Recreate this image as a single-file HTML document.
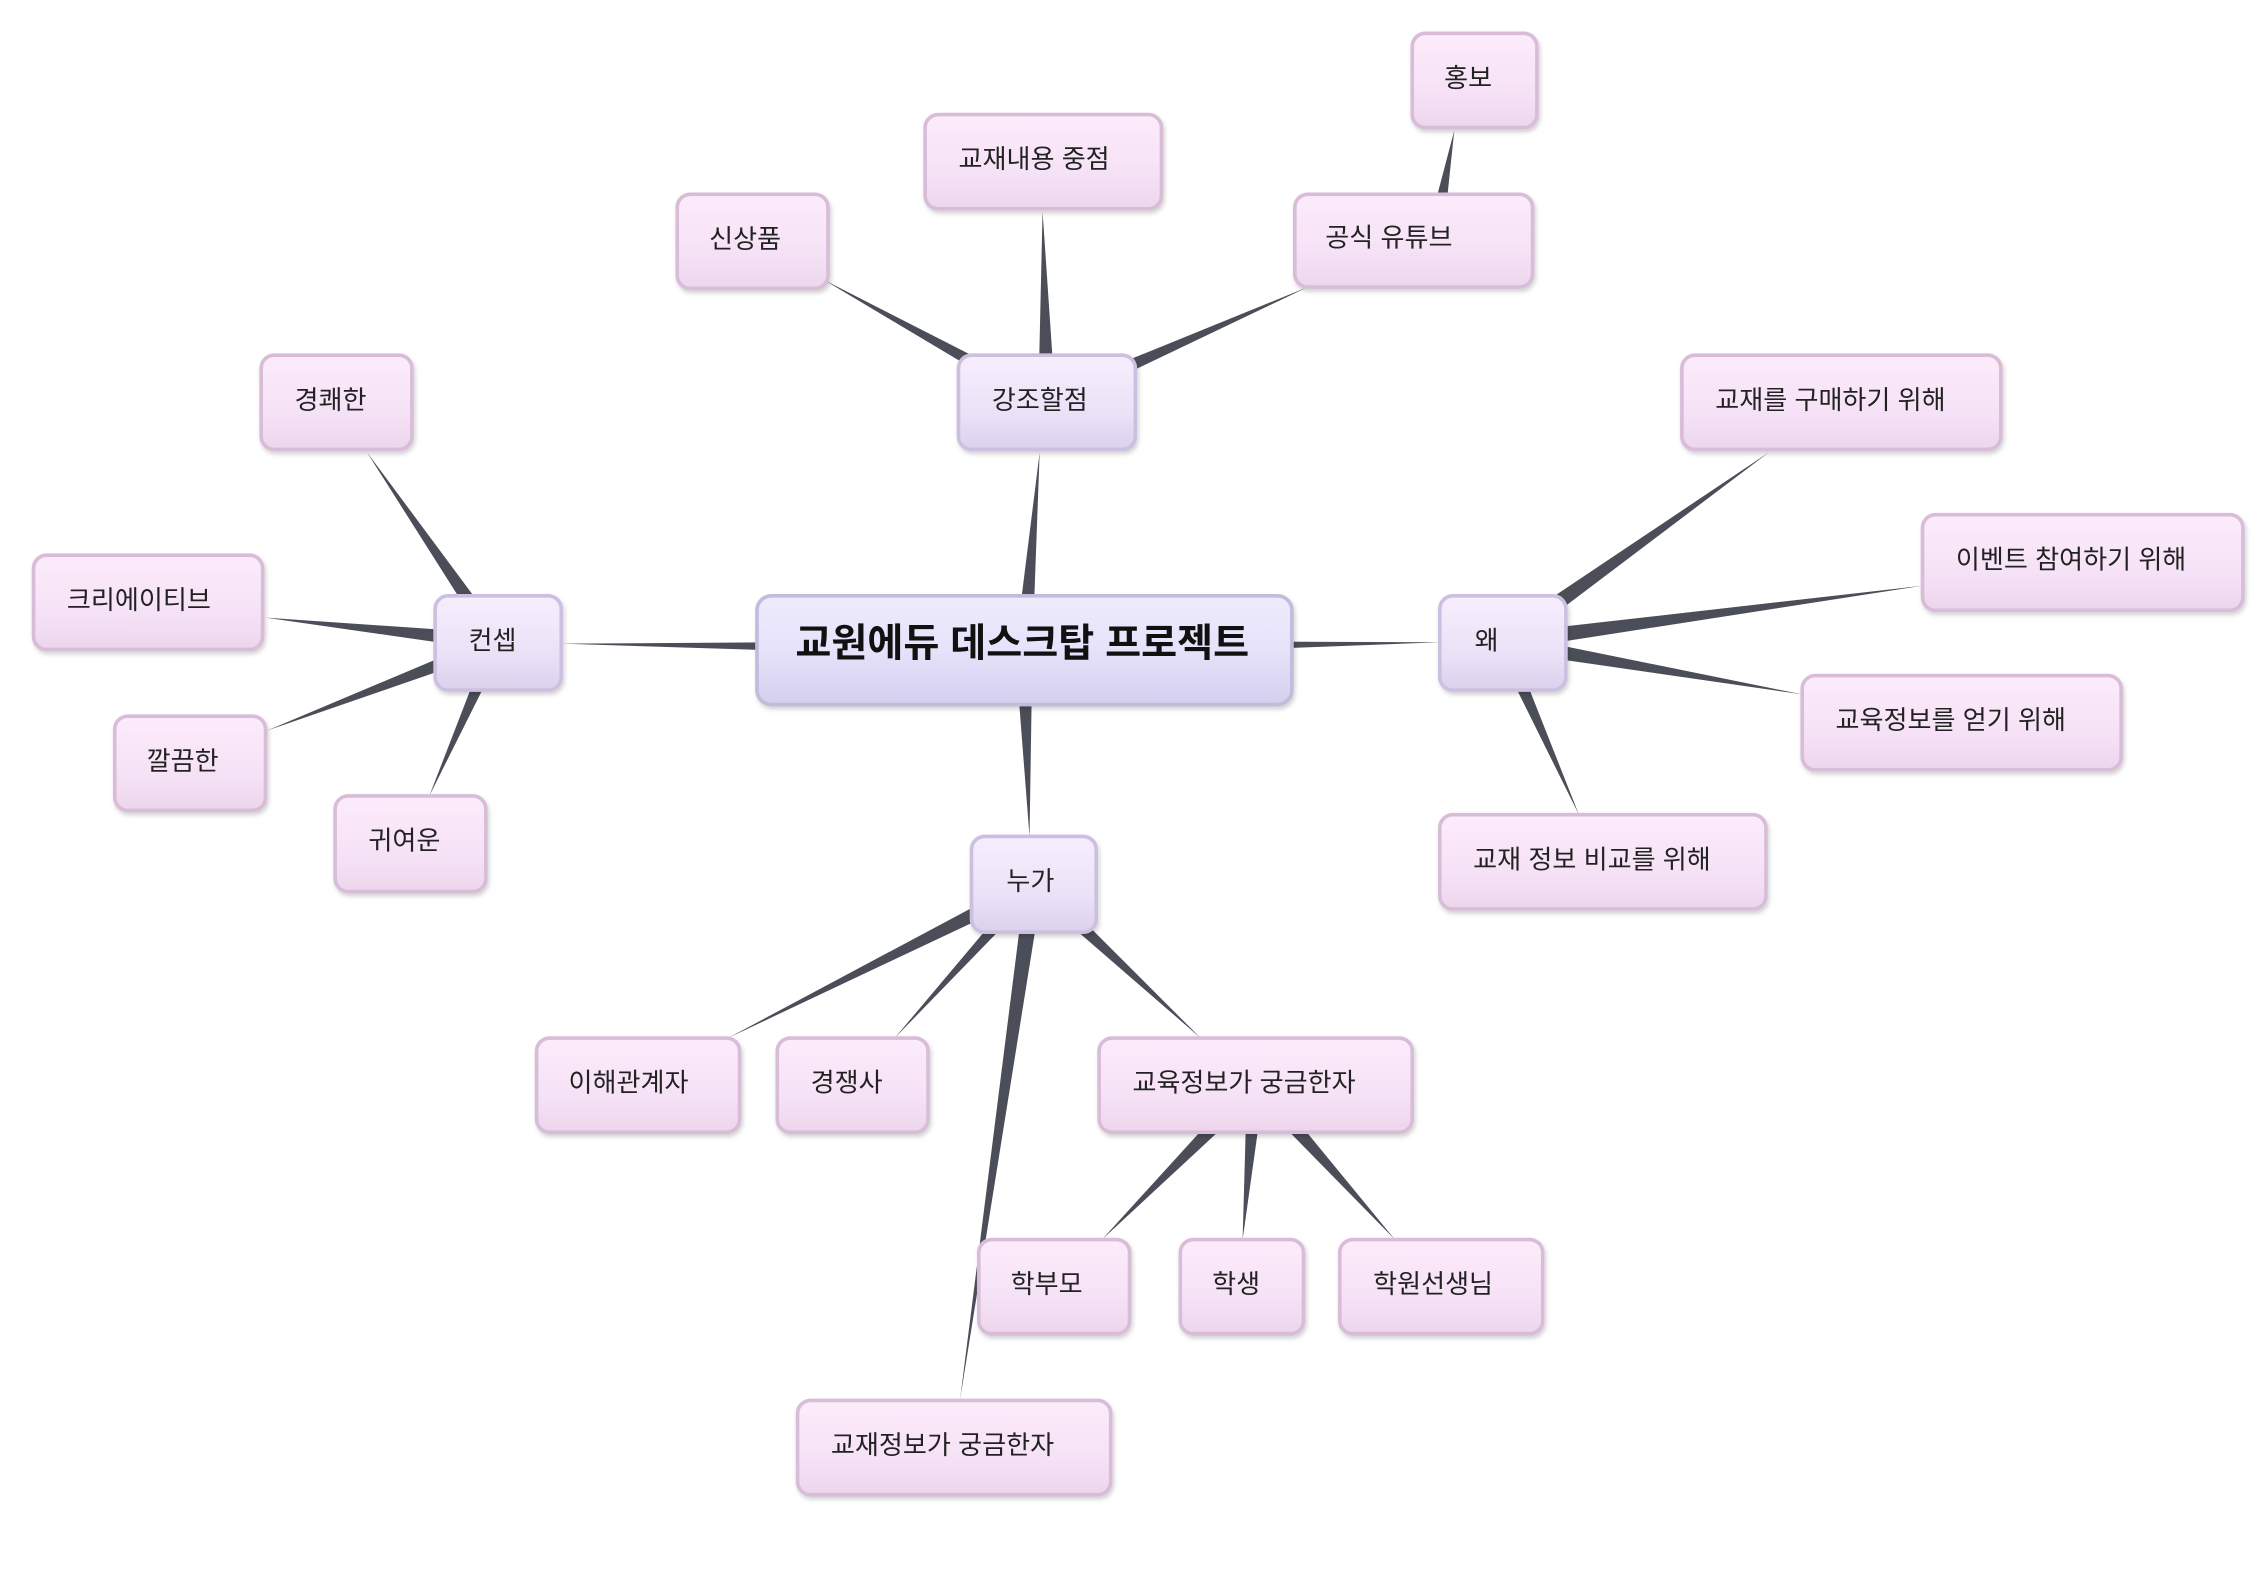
<!DOCTYPE html>
<html><head><meta charset="utf-8"><style>
html,body{margin:0;padding:0;background:#fff;}
svg{display:block}
text{font-family:"Liberation Sans","Noto Sans CJK KR",sans-serif;fill:#222;}
</style></head><body>
<svg width="2262" height="1586" viewBox="0 0 1560 1094" xmlns="http://www.w3.org/2000/svg">
<defs>
<linearGradient id="gc" x1="0" y1="0" x2="0" y2="1"><stop offset="0" stop-color="#eeebfd"/><stop offset="0.5" stop-color="#e6e2fa"/><stop offset="1" stop-color="#d4cfee"/></linearGradient>
<linearGradient id="gm" x1="0" y1="0" x2="0" y2="1"><stop offset="0" stop-color="#f6eefd"/><stop offset="0.6" stop-color="#ece2f8"/><stop offset="1" stop-color="#dcd0ec"/></linearGradient>
<linearGradient id="gl" x1="0" y1="0" x2="0" y2="1"><stop offset="0" stop-color="#fcecfb"/><stop offset="0.6" stop-color="#f6e2f6"/><stop offset="1" stop-color="#ecd6ec"/></linearGradient>
<filter id="sh" x="-10%" y="-10%" width="130%" height="140%"><feDropShadow dx="1" dy="2" stdDeviation="1.5" flood-color="#000" flood-opacity="0.18"/></filter>
</defs>
<g fill="#4b4e58">
<polygon points="700,448 712,448 717,312"/>
<polygon points="706,442 706,454 387,444"/>
<polygon points="706,442 706,454 993,443"/>
<polygon points="700,448 712,448 710,577"/>
<polygon points="725,273 719,283 568,193"/>
<polygon points="716,278 728,278 719,146"/>
<polygon points="720,272 724,283 902,198"/>
<polygon points="983,166 995,166 1003,90"/>
<polygon points="348,440 338,446 253,312"/>
<polygon points="343,437 343,449 183,426"/>
<polygon points="343,437 343,449 184,504"/>
<polygon points="337,443 349,443 296,549"/>
<polygon points="1032,438 1040,448 1220,312"/>
<polygon points="1036,437 1036,449 1326,404"/>
<polygon points="1036,437 1036,449 1243,479"/>
<polygon points="1030,443 1042,443 1089,562"/>
<polygon points="710,605 716,615 502,716"/>
<polygon points="708,608 718,612 617,716"/>
<polygon points="707,610 719,610 662,966"/>
<polygon points="708,612 718,606 828,716"/>
<polygon points="862,743 870,753 760,855"/>
<polygon points="860,748 872,748 857,855"/>
<polygon points="862,753 870,743 962,855"/>
</g>
<g filter="url(#sh)" stroke-width="2.5">
<rect x="522" y="411" width="369" height="75" rx="10" fill="url(#gc)" stroke="#c2bcdc"/>
<g fill="url(#gm)" stroke="#cdbfe0">
<rect x="661" y="245" width="122" height="65" rx="9"/>
<rect x="300" y="411" width="87" height="65" rx="9"/>
<rect x="993" y="411" width="87" height="65" rx="9"/>
<rect x="670" y="577" width="86" height="66" rx="9"/>
</g>
<g fill="url(#gl)" stroke="#d8bcd8">
<rect x="467" y="134" width="104" height="65" rx="9"/>
<rect x="638" y="79" width="163" height="65" rx="9"/>
<rect x="893" y="134" width="164" height="64" rx="9"/>
<rect x="974" y="23" width="86" height="65" rx="9"/>
<rect x="180" y="245" width="104" height="65" rx="9"/>
<rect x="23" y="383" width="158" height="65" rx="9"/>
<rect x="79" y="494" width="104" height="65" rx="9"/>
<rect x="231" y="549" width="104" height="66" rx="9"/>
<rect x="1160" y="245" width="220" height="65" rx="9"/>
<rect x="1326" y="355" width="221" height="66" rx="9"/>
<rect x="1243" y="466" width="220" height="65" rx="9"/>
<rect x="993" y="562" width="225" height="65" rx="9"/>
<rect x="370" y="716" width="140" height="65" rx="9"/>
<rect x="536" y="716" width="104" height="65" rx="9"/>
<rect x="758" y="716" width="216" height="65" rx="9"/>
<rect x="675" y="855" width="104" height="65" rx="9"/>
<rect x="814" y="855" width="85" height="65" rx="9"/>
<rect x="924" y="855" width="140" height="65" rx="9"/>
<rect x="550" y="966" width="216" height="65" rx="9"/>
</g>
</g>
<text x="705" y="453" font-size="27" font-weight="bold" text-anchor="middle" style="fill:#111">교원에듀 데스크탑 프로젝트</text>
<g font-size="18">
<text x="684" y="282">강조할점</text>
<text x="323" y="448">컨셉</text>
<text x="1017" y="448">왜</text>
<text x="694" y="614">누가</text>
<text x="489" y="171">신상품</text>
<text x="661" y="116">교재내용 중점</text>
<text x="914" y="170">공식 유튜브</text>
<text x="996" y="60">홍보</text>
<text x="203" y="282">경쾌한</text>
<text x="46" y="420">크리에이티브</text>
<text x="101" y="531">깔끔한</text>
<text x="254" y="586">귀여운</text>
<text x="1183" y="282">교재를 구매하기 위해</text>
<text x="1349" y="392">이벤트 참여하기 위해</text>
<text x="1266" y="503">교육정보를 얻기 위해</text>
<text x="1016" y="599">교재 정보 비교를 위해</text>
<text x="392" y="753">이해관계자</text>
<text x="559" y="753">경쟁사</text>
<text x="781" y="753">교육정보가 궁금한자</text>
<text x="697" y="892">학부모</text>
<text x="836" y="892">학생</text>
<text x="947" y="892">학원선생님</text>
<text x="573" y="1003">교재정보가 궁금한자</text>
</g>
</svg>
</body></html>
